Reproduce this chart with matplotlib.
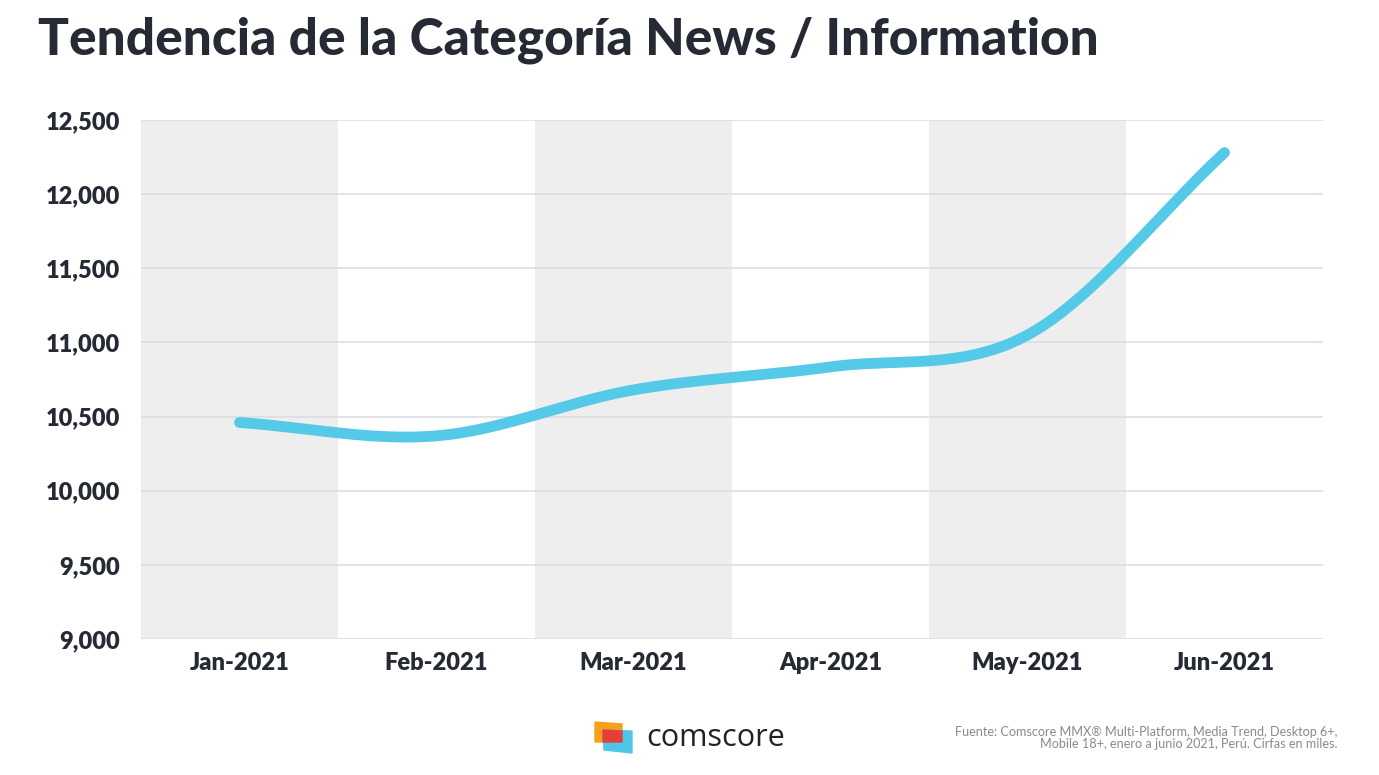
import numpy as np
import matplotlib.pyplot as plt
from matplotlib.patches import Polygon

months = ["Jan-2021", "Feb-2021", "Mar-2021", "Apr-2021", "May-2021", "Jun-2021"]
visitors = [10460, 10370, 10680, 10835, 11050, 12280]
y_ticks = [9000, 9500, 10000, 10500, 11000, 11500, 12000, 12500]

plt.rcParams['font.family'] = ['Lato', 'DejaVu Sans']

fig = plt.figure(figsize=(13.79, 7.75), dpi=100)
ax = fig.add_axes([141 / 1379, 1 - 639 / 775, 1182 / 1379, 519 / 775])

# alternating gray columns
for i in range(0, len(months), 2):
    ax.axvspan(i - 0.5, i + 0.5, color="#eeeeee", zorder=0, lw=0)

for t in y_ticks:
    ax.axhline(t, color="#dcdde6", lw=1.2, zorder=1)


# smoothed line like a spreadsheet "smooth line" (Catmull-Rom through the points)
def smooth(xs, ys, n=40):
    xs = np.asarray(xs, float)
    ys = np.asarray(ys, float)
    px = np.concatenate([[2 * xs[0] - xs[1]], xs, [2 * xs[-1] - xs[-2]]])
    py = np.concatenate([[2 * ys[0] - ys[1]], ys, [2 * ys[-1] - ys[-2]]])
    ox, oy = [], []
    for k in range(1, len(px) - 2):
        t = np.linspace(0, 1, n)
        for arr, out in ((px, ox), (py, oy)):
            p0, p1, p2, p3 = arr[k - 1], arr[k], arr[k + 1], arr[k + 2]
            m1 = (p2 - p0) / 2
            m2 = (p3 - p1) / 2
            h00 = 2 * t**3 - 3 * t**2 + 1
            h10 = t**3 - 2 * t**2 + t
            h01 = -2 * t**3 + 3 * t**2
            h11 = t**3 - t**2
            out.extend(h00 * p1 + h10 * m1 + h01 * p2 + h11 * m2)
    return np.array(ox), np.array(oy)


sx, sy = smooth(range(len(months)), visitors)
ax.plot(sx, sy, color="#55c9e8", lw=7.8, solid_capstyle="round", zorder=3)

ax.set_xlim(-0.5, len(months) - 0.5)
ax.set_ylim(9000, 12500)
ax.set_xticks(range(len(months)))
ax.set_xticklabels(months)
ax.set_yticks(y_ticks)
ax.set_yticklabels([f"{v:,}" for v in y_ticks])
ax.tick_params(length=0, labelsize=17, colors="#262a35")
ax.tick_params(axis="x", pad=9)
ax.tick_params(axis="y", pad=15)
for lab in ax.get_xticklabels() + ax.get_yticklabels():
    lab.set_fontweight("heavy")
for s in ax.spines.values():
    s.set_visible(False)

fig.text(38 / 1379, 1 - 40 / 775, "Tendencia de la Categoría News / Information",
         fontsize=37, fontweight="black", color="#262a35", va="center", ha="left")

# comscore logo
def fpt(x, y):
    return (x / 1379, 1 - y / 775)

fig.patches.append(Polygon([fpt(595, 722), fpt(622, 724), fpt(622, 742), fpt(595, 742)],
                           closed=True, transform=fig.transFigure, color="#f7a11a"))
fig.patches.append(Polygon([fpt(603, 730), fpt(632, 731), fpt(632, 753), fpt(604, 750)],
                           closed=True, transform=fig.transFigure, color="#4fc6e8"))
fig.patches.append(Polygon([fpt(603, 730), fpt(622, 731), fpt(622, 742), fpt(603, 742)],
                           closed=True, transform=fig.transFigure, color="#e4403a"))
fig.text(646 / 1379, 1 - 738 / 775, "comscore", fontsize=22, color="#222222",
         va="center", ha="left", family=["Open Sans", "DejaVu Sans"])

fig.text(1337 / 1379, 1 - 738 / 775,
         "Fuente: Comscore MMX® Multi-Platform, Media Trend, Desktop 6+,\n"
         "Mobile 18+, enero a junio 2021, Perú. Cirfas en miles.",
         fontsize=9.1, color="#8a8a8a", ha="right", va="center", linespacing=1.1)

fig.savefig("out.png", dpi=100, facecolor="white")
